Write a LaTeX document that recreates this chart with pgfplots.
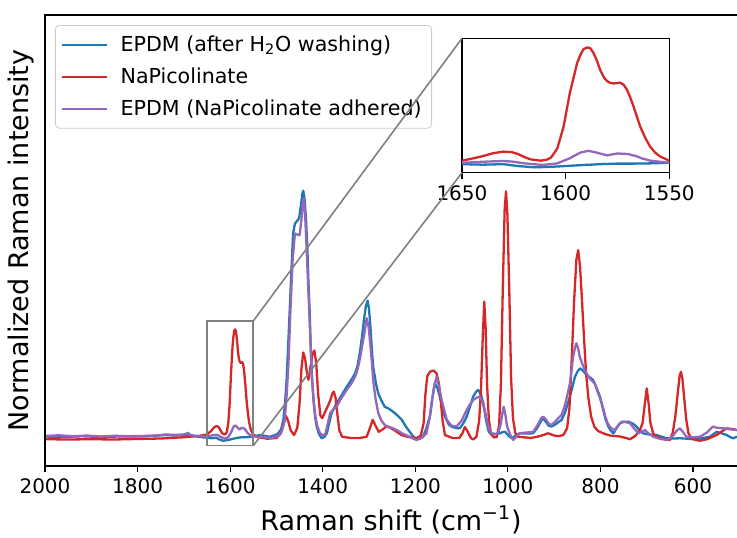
\documentclass[border=0pt]{standalone}
\usepackage{fontspec}
\setmainfont{DejaVu Sans}
\usepackage{pgfplots}
\usepackage{pgfplotstable}
\pgfplotsset{compat=1.18}
\definecolor{tabblue}{HTML}{1F77B4}
\definecolor{tabred}{HTML}{D62728}
\definecolor{tabpurple}{HTML}{9467BD}
\definecolor{zoomgray}{gray}{0.5}

\pgfplotstableread{
x y
2000 0.006
1960 0.004
1920 0.007
1880 0.004
1840 0.006
1800 0.006
1770 0.008
1740 0.012
1720 0.010
1700 0.012
1680 0.008
1660 0.003
1650 0.001
1640 -0.001
1630 0.001
1623 -0.006
1615 -0.011
1607 -0.009
1600 -0.006
1591 -0.002
1583 0.001
1575 0.003
1567 0.003
1559 0.004
1550 0.006
1535 0.012
1514 0.005
1498 0.015
1490 0.035
1485 0.073
1481 0.15
1478 0.234
1474 0.4
1471 0.53
1467 0.7
1464 0.825
1460 0.865
1456 0.874
1451 0.886
1447 0.94
1444 0.985
1442 0.997
1439 0.96
1436 0.879
1433 0.76
1431 0.637
1428 0.5
1426 0.368
1423 0.24
1420 0.153
1416 0.08
1413 0.046
1408 0.015
1402 -0.001
1396 0.005
1391 0.019
1386 0.06
1381 0.1
1370 0.14
1360 0.17
1348 0.207
1338 0.235
1330 0.261
1325 0.29
1320 0.341
1315 0.41
1311 0.476
1307 0.53
1303 0.554
1300 0.52
1297 0.45
1294 0.36
1291 0.288
1285 0.22
1280 0.18
1273 0.15
1266 0.126
1257 0.118
1248 0.106
1238 0.09
1229 0.073
1220 0.045
1212 0.025
1204 0.005
1197 -0.006
1190 -0.003
1183 0.005
1176 0.04
1168 0.09
1163 0.16
1158 0.22
1152 0.2
1147 0.167
1141 0.12
1136 0.086
1128 0.055
1122 0.046
1112 0.04
1104 0.039
1096 0.06
1089 0.086
1082 0.125
1075 0.167
1068 0.188
1064 0.194
1058 0.175
1053 0.14
1047 0.07
1042 0.03
1039 0.019
1028 0.015
1017 0.019
1011 0.024
1006 0.025
999 0.01
992 -0.001
983 0.01
974 0.019
960 0.018
945 0.019
935 0.045
928 0.07
924 0.079
918 0.065
912 0.05
906 0.046
897 0.055
890 0.065
884 0.073
877 0.1
872 0.13
866 0.167
860 0.21
855 0.247
849 0.27
844 0.281
837 0.27
830 0.254
823 0.245
816 0.234
808 0.2
801 0.167
795 0.12
789 0.075
783 0.046
777 0.028
772 0.019
765 0.04
758 0.059
750 0.065
740 0.066
730 0.058
722 0.046
715 0.03
708 0.019
695 0.014
679 0.012
668 0.005
657 -0.001
640 -0.002
628 -0.001
612 -0.003
600 -0.005
585 -0.002
572 0.002
564 0.005
556 0.015
549 0.025
540 0.02
527 0.012
520 0.004
513 -0.001
505 0.005
}\bluedata

\pgfplotstableread{
x y
2000 -0.005
1950 -0.006
1900 -0.005
1850 -0.006
1800 -0.004
1750 -0.002
1700 0.003
1670 0.008
1655 0.012
1650 0.014
1645 0.022
1640 0.031
1635 0.042
1630 0.048
1626 0.046
1623 0.039
1620 0.028
1617 0.019
1612 0.014
1609 0.018
1607 0.026
1604 0.060
1601 0.141
1598 0.266
1596 0.33
1594.5 0.378
1593 0.408
1591.3 0.432
1589.4 0.438
1588 0.434
1586.5 0.416
1585 0.39
1583.3 0.353
1581.5 0.325
1580 0.312
1578.5 0.305
1576.8 0.303
1573.6 0.306
1572 0.298
1570.4 0.279
1568.8 0.25
1567.2 0.216
1565.6 0.178
1564 0.141
1561.5 0.098
1559.2 0.066
1556.8 0.044
1554.3 0.029
1550 0.014
1540 0.004
1520 -0.003
1500 0.0
1490 0.02
1484 0.06
1479 0.088
1475 0.07
1469 0.03
1462 0.012
1455 0.04
1450 0.14
1446 0.28
1442 0.345
1438 0.32
1434 0.26
1431 0.235
1427 0.28
1422 0.34
1418 0.353
1414 0.3
1410 0.18
1405 0.09
1401 0.08
1396 0.1
1390 0.125
1384 0.15
1379 0.18
1376 0.187
1372 0.16
1368 0.09
1364 0.03
1358 0.005
1340 0.0
1320 0.0
1305 0.005
1298 0.04
1292 0.073
1286 0.05
1279 0.025
1270 0.035
1262 0.048
1253 0.04
1244 0.03
1230 0.012
1215 0.004
1197 0.0
1188 0.01
1182 0.06
1178 0.18
1174 0.25
1168 0.268
1160 0.272
1154 0.26
1149 0.22
1145 0.15
1141 0.07
1136 0.012
1120 0.0
1105 0.0
1098 0.02
1093 0.044
1088 0.03
1080 0.0
1075 -0.006
1068 0.005
1062 0.07
1058 0.2
1054 0.42
1051 0.55
1048 0.44
1045 0.22
1041 0.07
1036 0.015
1030 0.002
1024 0.004
1019 0.05
1015 0.22
1011 0.6
1007 0.92
1004 0.995
1001 0.9
997 0.6
993 0.24
989 0.08
984 0.02
978 0.005
950 0.0
930 0.008
913 0.019
900 0.01
891 0.007
880 0.012
872 0.04
867 0.12
862 0.32
857 0.55
852 0.72
848 0.758
844 0.69
840 0.56
836 0.42
831 0.26
826 0.16
820 0.085
813 0.045
805 0.028
794 0.019
780 0.01
758 0.006
745 0.0
736 -0.005
725 0.008
715 0.03
709 0.06
704 0.14
700 0.2
696 0.14
692 0.06
686 0.018
679 0.005
660 -0.006
650 -0.008
644 0.02
638 0.09
633 0.18
629 0.25
626 0.267
623 0.24
619 0.16
615 0.08
610 0.02
605 0.002
595 -0.008
585 -0.011
570 -0.005
549 0.012
535 0.03
527 0.039
515 0.036
505 0.032
}\reddata

\pgfplotstableread{
x y
2000 0.008
1970 0.011
1940 0.007
1910 0.010
1880 0.006
1850 0.009
1820 0.007
1790 0.008
1760 0.010
1740 0.014
1720 0.013
1700 0.014
1694 0.018
1691 0.021
1686 0.012
1675 0.009
1660 0.006
1650 0.006
1640 0.010
1630 0.013
1625 0.010
1620 0.004
1611 -0.002
1604 0.004
1598 0.023
1593 0.044
1589 0.051
1585 0.044
1580 0.034
1575 0.041
1570 0.039
1566 0.031
1563 0.022
1559 0.014
1550 0.006
1535 0.005
1510 0.0
1495 0.01
1488 0.03
1482 0.073
1478 0.17
1474 0.30
1470 0.5
1465 0.718
1460 0.825
1455 0.82
1450 0.818
1446 0.88
1443 0.95
1441 0.966
1438 0.9
1435 0.771
1432 0.64
1429 0.503
1426 0.37
1424 0.261
1420 0.16
1417 0.1
1412 0.05
1406 0.019
1400 0.012
1395 0.012
1390 0.05
1384 0.1
1377 0.115
1370 0.126
1360 0.16
1348 0.194
1338 0.22
1330 0.247
1325 0.275
1320 0.315
1315 0.37
1310 0.42
1305 0.483
1301 0.45
1298 0.395
1294 0.31
1291 0.234
1286 0.16
1280 0.1
1273 0.07
1266 0.052
1257 0.045
1248 0.039
1238 0.03
1229 0.019
1220 0.012
1212 0.005
1204 -0.003
1197 -0.008
1190 -0.002
1183 0.005
1176 0.019
1170 0.07
1165 0.14
1160 0.2
1154 0.247
1148 0.2
1143 0.153
1137 0.11
1132 0.073
1122 0.05
1111 0.046
1100 0.07
1089 0.113
1082 0.135
1075 0.153
1067 0.163
1060 0.167
1055 0.145
1050 0.113
1044 0.06
1039 0.03
1035 0.019
1027 0.016
1021 0.019
1015 0.06
1011 0.11
1009 0.126
1005 0.09
1002 0.05
999 0.032
993 0.005
988 -0.008
981 0.008
974 0.019
960 0.022
945 0.025
935 0.055
928 0.08
924 0.086
918 0.075
912 0.058
906 0.052
897 0.068
890 0.082
884 0.093
877 0.13
872 0.17
866 0.22
862 0.28
859 0.328
855 0.365
852 0.382
848 0.36
845 0.33
841 0.308
834 0.275
826 0.247
819 0.232
812 0.22
805 0.18
797 0.14
790 0.09
785 0.062
780 0.046
774 0.036
769 0.032
762 0.05
754 0.066
745 0.064
736 0.059
728 0.04
718 0.019
711 0.025
704 0.032
697 0.02
686 0.005
672 -0.003
657 -0.008
645 0.005
635 0.03
628 0.039
621 0.022
614 0.005
600 0.003
585 0.005
570 0.022
563 0.035
557 0.046
550 0.042
543 0.04
535 0.039
520 0.035
505 0.032
}\purpledata

\begin{document}
\begin{tikzpicture}
\pgfplotsset{
  every axis/.append style={
    /pgf/number format/assume math mode=true,
    /pgf/number format/1000 sep={},
    tick label style={font=\fontsize{10}{12}\selectfont},
    xtick align=outside, xtick pos=left,
    major tick length=3pt,
    tick style={line width=0.6pt, black},
  }
}
\begin{axis}[
  name=main, at={(0,0)}, anchor=south west,
  scale only axis, width=346pt, height=225.5pt,
  xmin=505, xmax=2000, ymin=-0.113, ymax=1.706,
  x dir=reverse,
  axis line style={draw=none},
  xtick={600,800,1000,1200,1400,1600,1800,2000},
  ytick=\empty,
  xlabel={Raman shift (cm\textsuperscript{−1})},
  label style={font=\fontsize{13.5}{16}\selectfont},
  xlabel style={at={(axis description cs:0.5,0)}, anchor=center, yshift=-27pt},
  legend style={at={(axis description cs:0,1)}, xshift=5pt, yshift=-5pt,
    anchor=north west, draw=black!20, rounded corners=2pt, fill=white,
    fill opacity=0.8, text opacity=1, font=\fontsize{10.3}{12.4}\selectfont,
    inner xsep=3pt, inner ysep=3pt, row sep=2.7pt, cells={anchor=west}},
  legend image code/.code={\draw[#1,line width=1.1pt] (0pt,0pt) -- (22.5pt,0pt); \path (26.5pt,0pt);},
  legend cell align=left,
]
\addplot[tabblue, line width=1.15pt, line join=round] table[x=x,y=y] {\bluedata};
\addlegendentry{EPDM (after H\textsubscript{2}O washing)}
\addplot[tabred, line width=1.15pt, line join=round] table[x=x,y=y] {\reddata};
\addlegendentry{NaPicolinate}
\addplot[tabpurple, line width=1.15pt, line join=round] table[x=x,y=y] {\purpledata};
\addlegendentry{EPDM (NaPicolinate adhered)}
\draw[zoomgray, line width=0.8pt] (axis cs:1650,-0.031) rectangle (axis cs:1550,0.472);
\coordinate (rTR) at (axis cs:1550,0.472);
\coordinate (rBR) at (axis cs:1550,-0.031);
\coordinate (ylab) at (axis description cs:0,0.5);
\end{axis}
\draw[line width=0.6pt] (main.north east) -- (main.north west) -- (main.south west) -- (main.south east);
\node[rotate=90, anchor=center, inner sep=0pt, font=\fontsize{13.5}{16}\selectfont] at ([xshift=-12pt]ylab) {Normalized Raman intensity};

\begin{axis}[
  name=inset, at={(208.5pt,146.65pt)}, anchor=south west,
  scale only axis, width=103.65pt, height=67.2pt,
  xmin=1550, xmax=1650, x dir=reverse,
  ymin=-0.031, ymax=0.472,
  xtick={1550,1600,1650}, ytick=\empty,
  axis line style={line width=0.6pt},
  axis background/.style={fill=white},
]
\addplot[tabblue, line width=1.15pt, line join=round] table[x=x,y=y] {\bluedata};
\addplot[tabred, line width=1.15pt, line join=round] table[x=x,y=y] {\reddata};
\addplot[tabpurple, line width=1.15pt, line join=round] table[x=x,y=y] {\purpledata};
\coordinate (iTL) at (axis cs:1650,0.472);
\coordinate (iBL) at (axis cs:1650,-0.031);
\end{axis}
\draw[zoomgray, line width=0.8pt] (rTR) -- (iTL);
\draw[zoomgray, line width=0.8pt] (rBR) -- (iBL);

\pgfresetboundingbox
\useasboundingbox (-22.5pt,-35.5pt) rectangle (346pt,233pt);
\end{tikzpicture}
\end{document}
